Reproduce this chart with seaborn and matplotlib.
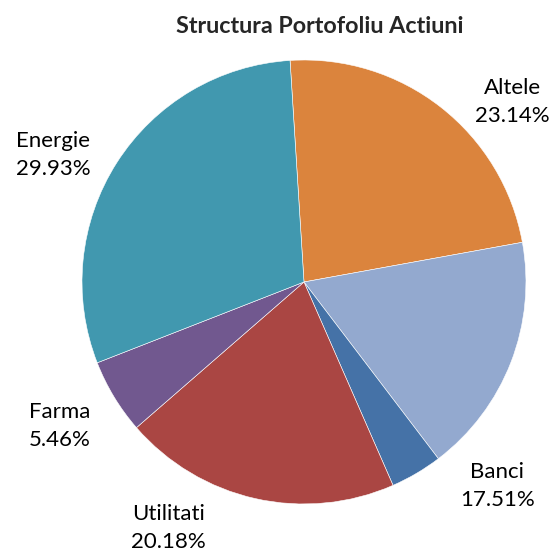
import matplotlib.pyplot as plt
import seaborn as sns

sns.set_theme(style="white")
plt.rcParams['font.family'] = ['Lato', 'DejaVu Sans']

# portfolio structure, clockwise from the top
sectors = ['Altele', 'Banci', '', 'Utilitati', 'Farma', 'Energie']
shares = [23.14, 17.51, 3.78, 20.18, 5.46, 29.93]
colors = ['#DB843D', '#93A9CF', '#4572A7', '#AA4643', '#71588F', '#4198AF']

# where excel put the data labels (data coords, pie radius = 1)
label_pos = [(0.94, 0.81), (0.87, -0.92), None, (-0.61, -1.11), (-1.10, -0.65), (-1.13, 0.57)]

fig = plt.figure(figsize=(5.54, 5.54), dpi=100)
ax = fig.add_axes([0.148, 0.0903, 0.8014, 0.8014])

ax.pie(shares, colors=colors, startangle=93.6, counterclock=False,
       wedgeprops=dict(edgecolor='white', linewidth=0.4))

total = sum(shares)
for name, v, pos in zip(sectors, shares, label_pos):
    if pos is None:
        continue
    ax.text(pos[0], pos[1], f"{name}\n{v / total * 100:.2f}%", ha='center', va='center',
            fontsize=16, linespacing=1.5, color='black')

ax.set_xlim(-1, 1)
ax.set_ylim(-1, 1)
ax.set_aspect('equal')
ax.axis('off')

fig.text(0.578, 0.953, 'Structura Portofoliu Actiuni', ha='center', va='center',
         fontsize=16.8, fontweight='bold')

plt.savefig('out.png', dpi=100)
plt.close()
